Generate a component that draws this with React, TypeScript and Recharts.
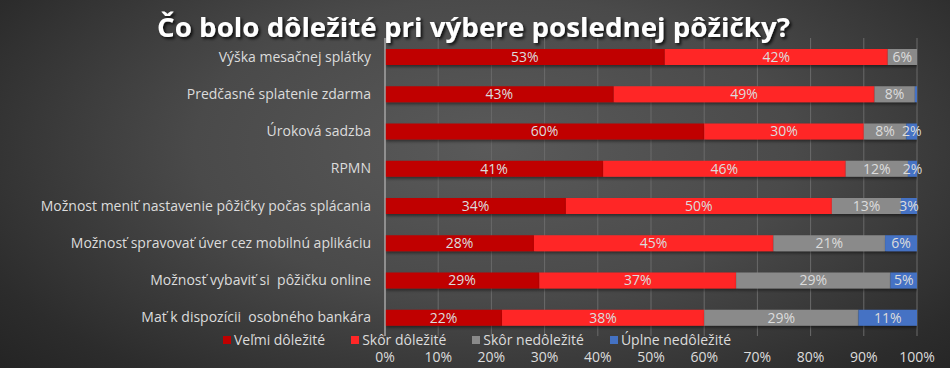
import { Bar, BarChart, CartesianGrid, LabelList, XAxis, YAxis } from "recharts";

const categories = [
  "Výška mesačnej splátky",
  "Predčasné splatenie zdarma",
  "Úroková sadzba",
  "RPMN",
  "Možnost meniť nastavenie pôžičky počas splácania",
  "Možnosť spravovať úver cez mobilnú aplikáciu",
  "Možnosť vybaviť si \u00a0pôžičku online",
  "Mať k dispozícii \u00a0osobného bankára",
];

const velmiDolezite = [52.6, 43, 60, 41, 34, 28, 29, 22];
const skorDolezite = [41.9, 49, 30, 45.6, 50, 45, 37, 38];
const skorNedolezite = [5.5, 7.6, 8, 11.7, 13, 21, 29, 29];
const uplneNedolezite = [0, 0.4, 2, 1.7, 3, 6, 5, 11];

const xTicks = [0, 10, 20, 30, 40, 50, 60, 70, 80, 90, 100];

const series = [
  { key: "velmi", name: "Veľmi dôležité", color: "#c00000", values: velmiDolezite },
  { key: "skor", name: "Skôr dôležité", color: "#ff2727", values: skorDolezite },
  { key: "skorNe", name: "Skôr nedôležité", color: "#8a8a8a", values: skorNedolezite },
  { key: "uplne", name: "Úplne nedôležité", color: "#4472c4", values: uplneNedolezite },
];

const data = categories.map((name, i) => {
  const row: Record<string, string | number> = { name };
  series.forEach((s) => {
    row[s.key] = s.values[i];
  });
  return row;
});

const FONT = "'Open Sans', sans-serif";
const TEXT = "#dcdcdc";

const fmt = (v: any) => (Number(v) >= 1 ? `${Math.round(Number(v))}%` : "");

function LegendBox() {
  return (
    <div
      style={{
        position: "absolute",
        top: 333,
        left: 0,
        width: 950,
        display: "flex",
        justifyContent: "center",
        gap: 26,
        fontFamily: FONT,
        fontSize: 14,
        lineHeight: "14px",
        color: TEXT,
        paddingLeft: 4,
        boxSizing: "border-box",
      }}
    >
      {series.map((s) => (
        <div key={s.key} style={{ display: "flex", alignItems: "center", gap: 3 }}>
          <span style={{ width: 8, height: 8, background: s.color, display: "inline-block" }} />
          <span>{s.name}</span>
        </div>
      ))}
    </div>
  );
}

export default function App() {
  return (
    <div
      style={{
        position: "absolute",
        left: 0,
        top: 0,
        width: 950,
        height: 368,
        overflow: "hidden",
        background:
          "radial-gradient(ellipse 70% 90% at 52% 40%, #5a5a5a 0%, #4a4a4a 45%, #2c2c2c 85%, #242424 100%)",
      }}
    >
      <svg width={950} height={50} style={{ position: "absolute", left: 0, top: 0 }}>
        <defs>
          <filter id="tshadow" x="-5%" y="-30%" width="110%" height="160%">
            <feDropShadow dx="2" dy="2" stdDeviation="1.5" floodColor="#000" floodOpacity="0.8" />
          </filter>
        </defs>
        <text
          x={157}
          y={37}
          textLength={633}
          lengthAdjust="spacingAndGlyphs"
          fontFamily={FONT}
          fontWeight={700}
          fontSize={27}
          fill="#ffffff"
          filter="url(#tshadow)"
        >
          Čo bolo dôležité pri výbere poslednej pôžičky?
        </text>
      </svg>
      <BarChart
        width={950}
        height={368}
        data={data}
        layout="vertical"
        margin={{ top: 38, right: 33, bottom: 1, left: 0 }}
        style={{ position: "absolute", left: 0, top: 0 }}
      >
        <defs>
          <filter id="bshadow" x="-5%" y="-30%" width="110%" height="180%">
            <feDropShadow dx="1" dy="2" stdDeviation="1.5" floodColor="#000" floodOpacity="0.45" />
          </filter>
        </defs>
        <CartesianGrid horizontal={false} stroke="#6a6a6a" strokeWidth={1} />
        <XAxis
          type="number"
          domain={[0, 100]}
          ticks={xTicks}
          tickFormatter={(v) => `${v}%`}
          axisLine={false}
          tickLine={false}
          height={31}
          tickMargin={10}
          tick={{ fill: TEXT, fontSize: 14, fontFamily: FONT }}
          allowDataOverflow
        />
        <YAxis
          type="category"
          dataKey="name"
          width={385}
          tickMargin={8}
          tickLine={false}
          axisLine={{ stroke: "#a0a0a0", strokeWidth: 1.5 }}
          tick={{ fill: TEXT, fontSize: 14, fontFamily: FONT }}
          interval={0}
        />
        {series.map((s) => (
          <Bar
            key={s.key}
            dataKey={s.key}
            name={s.name}
            stackId="a"
            fill={s.color}
            barSize={16}
            isAnimationActive={false}
            style={{ filter: "url(#bshadow)" }}
          >
            <LabelList
              dataKey={s.key}
              position="center"
              formatter={fmt}
              fill={TEXT}
              fontSize={14}
              fontFamily={FONT}
            />
          </Bar>
        ))}
      </BarChart>
      <LegendBox />
    </div>
  );
}
